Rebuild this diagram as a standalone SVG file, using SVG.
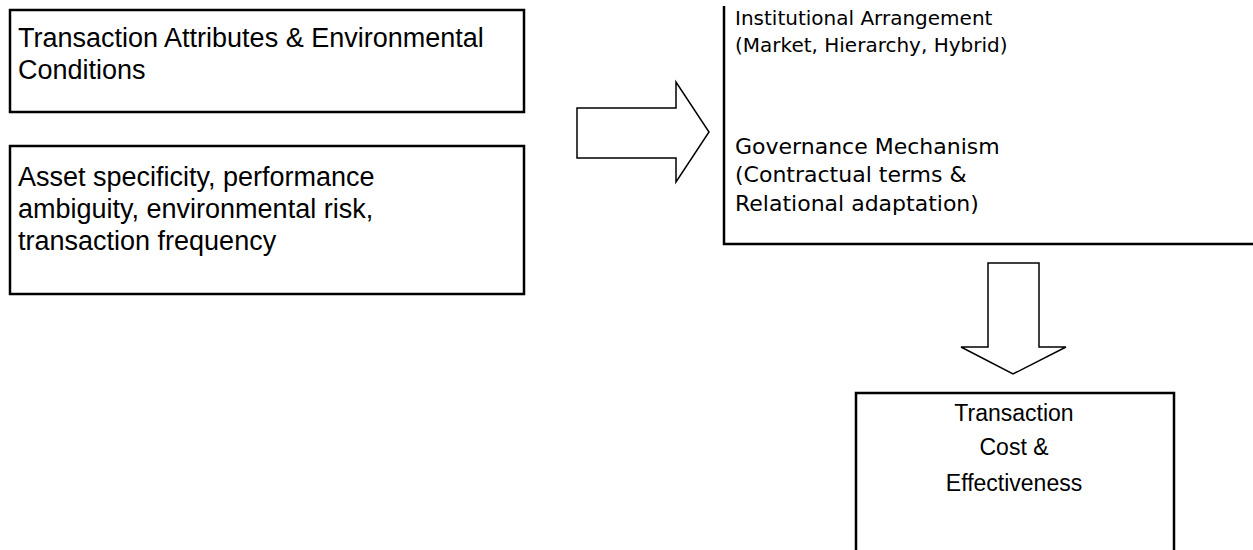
<svg xmlns="http://www.w3.org/2000/svg" width="1253" height="550" viewBox="0 0 1253 550">
<style>
.box{fill:#fff;stroke:#000;stroke-width:2.5}
.line{fill:none;stroke:#000;stroke-width:2.5}
.arrow{fill:#fff;stroke:#000;stroke-width:1.5;stroke-linejoin:miter}
.t{font-family:"Liberation Sans",Arial,sans-serif;font-size:27px;fill:#000}
.c{font-family:"Liberation Sans",Arial,sans-serif;font-size:23px;fill:#000}
.m{font-family:"DejaVu Sans",Verdana,sans-serif;font-size:20px;fill:#000}
.g{font-family:"DejaVu Sans",Verdana,sans-serif;font-size:22px;fill:#000}
</style>
<rect width="1253" height="550" fill="#fff"/>
<g id="node-attributes">
<rect class="box" x="10" y="10" width="514" height="102"/>
<text class="t" x="18" y="47">Transaction Attributes &amp; Environmental</text>
<text class="t" x="18" y="79">Conditions</text>
</g>
<g id="node-factors">
<rect class="box" x="10" y="146" width="514" height="148"/>
<text class="t" x="18" y="186">Asset specificity, performance</text>
<text class="t" x="18" y="218">ambiguity, environmental risk,</text>
<text class="t" x="18" y="250">transaction frequency</text>
</g>
<g id="node-institutional">
<path class="line" d="M724,6 V244 H1253"/>
<text class="m" x="735" y="25">Institutional Arrangement</text>
<text class="m" x="735" y="52">(Market, Hierarchy, Hybrid)</text>
<text class="g" x="735" y="154">Governance Mechanism</text>
<text class="g" x="735" y="182">(Contractual terms &amp;</text>
<text class="g" x="735" y="211">Relational adaptation)</text>
</g>
<g id="node-outcome">
<rect class="box" x="856" y="393" width="318" height="170"/>
<text class="c" x="1014" y="421" text-anchor="middle">Transaction</text>
<text class="c" x="1014" y="455" text-anchor="middle">Cost &amp;</text>
<text class="c" x="1014" y="491" text-anchor="middle">Effectiveness</text>
</g>
<g id="connectors">
<path class="arrow" d="M577,108 H676 V82 L709,132 L676,182 V158 H577 Z"/>
<path class="arrow" d="M988,263 H1039 V347 H1066 L1013,374 L961,347 H988 Z"/>
</g>
</svg>
